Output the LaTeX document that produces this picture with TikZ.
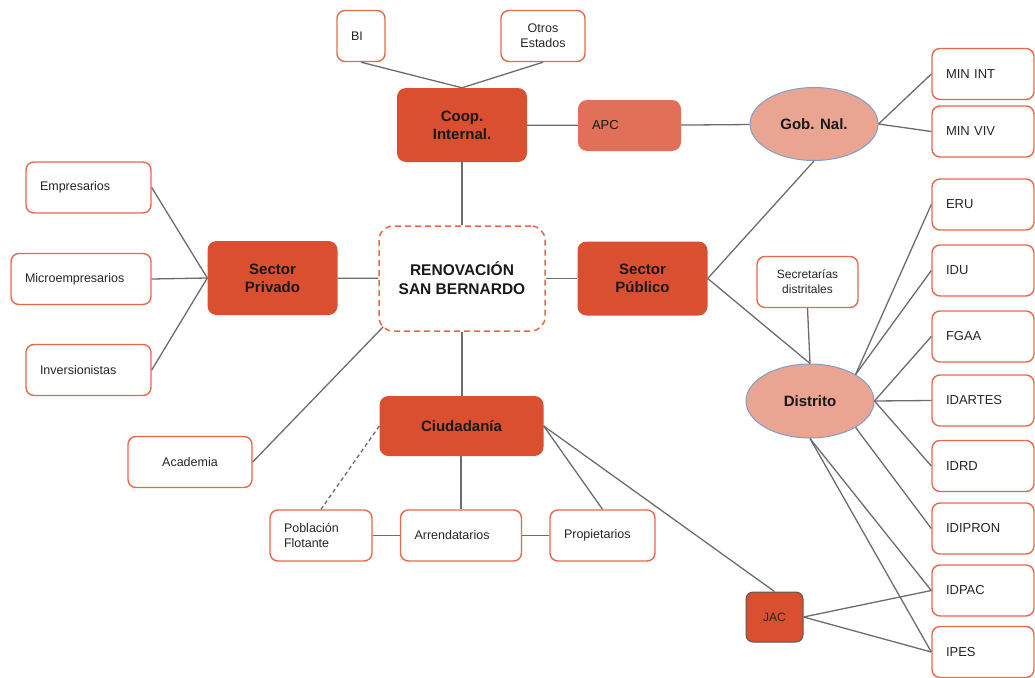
\documentclass[tikz,border=0pt]{standalone}
\usepackage{fontspec}
\setmainfont{Liberation Sans}
\usetikzlibrary{shapes.geometric}
\definecolor{naranja}{HTML}{D94F2F}
\definecolor{naranjaclaro}{HTML}{E07058}
\definecolor{borde}{HTML}{E8684A}
\definecolor{salmon}{HTML}{E9A592}
\definecolor{azul}{HTML}{7F9FCB}
\definecolor{linea}{HTML}{6C6C6C}

\begin{document}
\begin{tikzpicture}[x=1pt,y=-1pt,
  hoja/.style={draw=borde,line width=1.4pt,fill=white,rounded corners=8pt,minimum height=51pt,
    inner xsep=14pt,align=left,text=black!85,font=\fontsize{12.5}{15}\selectfont},
  ente/.style={hoja,text width=74pt,font=\fontsize{13}{15}\selectfont},
  actor/.style={fill=naranja,rounded corners=9pt,minimum width=130pt,minimum height=74pt,
    align=center,text=black!90,font=\fontsize{15}{18}\selectfont\bfseries},
  nivel/.style={ellipse,draw=azul,fill=salmon,line width=1pt,minimum width=128pt,
    minimum height=73pt,inner sep=0pt,text=black!90,font=\fontsize{15}{18}\selectfont\bfseries},
  enlace/.style={draw=linea,line width=1.3pt}]
  \useasboundingbox (0,0) rectangle (1035,677);
  % cooperacion
  \node[hoja,text width=20pt] (bi) at (361,36) {BI};
  \node[hoja,text width=56pt,align=center] (otros) at (543,36) {Otros\\Estados};
  \node[actor] (coop) at (462,125) {Coop.\\Internal.};
  \node[actor,fill=naranjaclaro,minimum width=103pt,minimum height=51pt,inner xsep=14pt,
    text width=75pt,align=left,font=\fontsize{13}{15}\selectfont] (apc) at (629.5,125.5) {APC};
  \node[nivel] (gob) at (814,124) {Gob. Nal.};
  \node[ente] (minint) at (983,74) {MIN INT};
  \node[ente] (minviv) at (983,131.5) {MIN VIV};
  % centro
  \node[draw=borde,line width=1.5pt,dash pattern=on 6pt off 4pt,rounded corners=14pt,
    minimum width=166pt,minimum height=105pt,align=center,text=black!90,
    font=\fontsize{15.5}{19}\selectfont\bfseries] (renov) at (462,278.5) {RENOVACIÓN\\SAN BERNARDO};
  \node[actor] (privado) at (272.5,278) {Sector\\Privado};
  \node[actor] (publico) at (642.5,278.5) {Sector\\Público};
  \node[hoja,text width=97pt] (empresarios) at (88.5,187.5) {Empresarios};
  \node[hoja,text width=112pt] (micro) at (81,279) {Microempresarios};
  \node[hoja,text width=97pt] (inversionistas) at (88.5,370) {Inversionistas};
  \node[hoja,text width=96pt,align=center] (academia) at (190,462) {Academia};
  % distrito
  \node[hoja,text width=73pt,inner xsep=14pt,align=center,font=\fontsize{12}{15}\selectfont]
    (secretarias) at (807.5,282) {Secretarías\\distritales};
  \node[nivel,minimum height=74pt] (distrito) at (810,401) {Distrito};
  \node[ente] (eru) at (983,204.5) {ERU};
  \node[ente] (idu) at (983,270.5) {IDU};
  \node[ente] (fgaa) at (983,336.5) {FGAA};
  \node[ente] (idartes) at (983,400.5) {IDARTES};
  \node[ente] (idrd) at (983,466) {IDRD};
  \node[ente] (idipron) at (983,528.5) {IDIPRON};
  \node[ente] (idpac) at (983,590.5) {IDPAC};
  \node[ente] (ipes) at (983,652) {IPES};
  % ciudadania
  \node[actor,minimum width=164pt,minimum height=60pt] (ciudadania) at (461.5,426) {Ciudadanía};
  \node[hoja,text width=74pt] (poblacion) at (321,535.5) {Población\\Flotante};
  \node[hoja,text width=93pt] (arrendatarios) at (461,535.5) {Arrendatarios};
  \node[hoja,text width=77pt] (propietarios) at (602.5,535.5) {Propietarios};
  \node[draw=black!65,fill=naranja,line width=1pt,rounded corners=7pt,minimum width=57pt,
    minimum height=50pt,text=black!85,font=\fontsize{12}{14}\selectfont] (jac) at (774.5,617) {JAC};

  \draw[enlace] (bi.south) -- (coop.north);
  \draw[enlace] (otros.south) -- (coop.north);
  \draw[enlace] (coop) -- (apc);
  \draw[enlace] (apc) -- (gob);
  \draw[enlace] (gob.east) -- (minint.west);
  \draw[enlace] (gob.east) -- (minviv.west);
  \draw[enlace] (gob.south) -- (publico.east);
  \draw[enlace] (coop) -- (renov);
  \draw[enlace] (privado) -- (renov);
  \draw[enlace] (renov) -- (publico);
  \draw[enlace] (privado.west) -- (empresarios.east);
  \draw[enlace] (privado.west) -- (micro.east);
  \draw[enlace] (privado.west) -- (inversionistas.east);
  \draw[enlace] ([shift={(5,-5)}]renov.south west) -- (academia.east);
  \draw[enlace] (renov.south) -- (renov.south |- ciudadania.north);
  \draw[enlace,dash pattern=on 4pt off 3pt] (ciudadania.west) -- (poblacion.north);
  \draw[enlace] (ciudadania.south -| arrendatarios.north) -- (arrendatarios.north);
  \draw[enlace] (poblacion) -- (arrendatarios);
  \draw[enlace] (arrendatarios) -- (propietarios);
  \draw[enlace] (ciudadania.east) -- (propietarios.north);
  \draw[enlace] (ciudadania.east) -- (jac.north);
  \draw[enlace] (publico.east) -- (distrito.north);
  \draw[enlace] (secretarias.south) -- (distrito.north);
  \draw[enlace] (distrito.north east) -- (eru.west);
  \draw[enlace] (distrito.north east) -- (idu.west);
  \draw[enlace] (distrito.east) -- (fgaa.west);
  \draw[enlace] (distrito.east) -- (idartes.west);
  \draw[enlace] (distrito.east) -- (idrd.west);
  \draw[enlace] (distrito.south east) -- (idipron.west);
  \draw[enlace] (distrito.south) -- (idpac.west);
  \draw[enlace] (distrito.south) -- (ipes.west);
  \draw[enlace] (jac.east) -- (idpac.west);
  \draw[enlace] (jac.east) -- (ipes.west);
\end{tikzpicture}
\end{document}
